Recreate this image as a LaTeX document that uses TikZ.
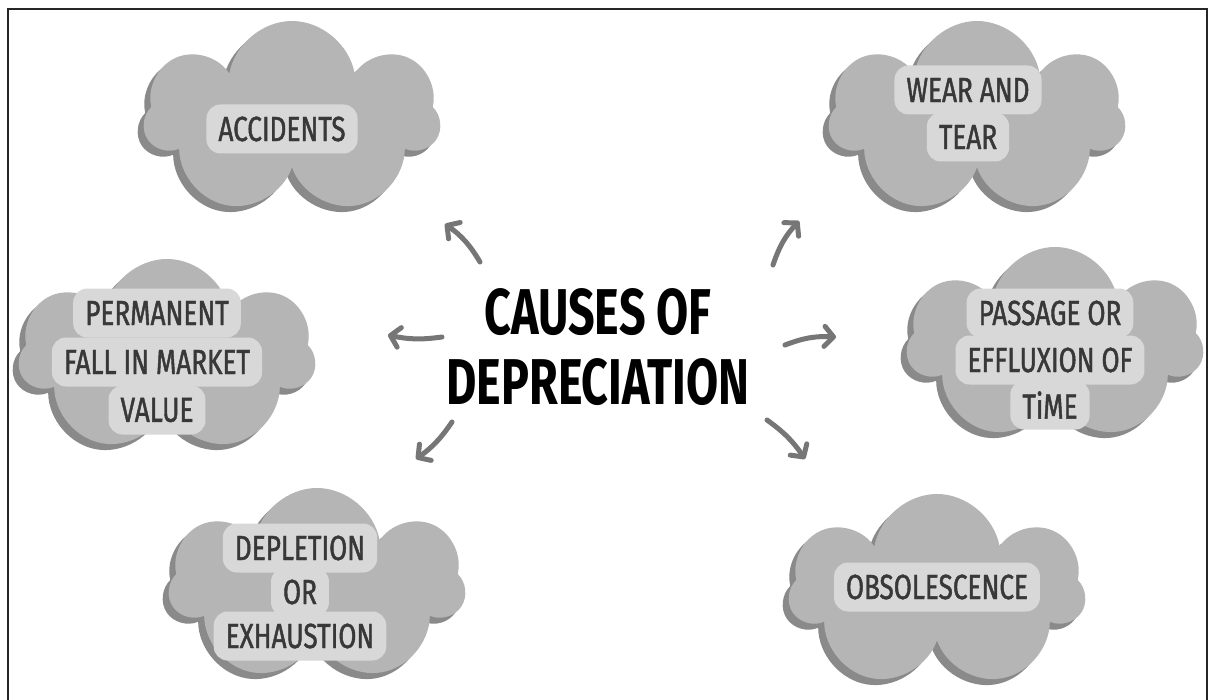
\documentclass[tikz,border=0pt]{standalone}
\usepackage{fontspec}
\newfontfamily\labelfont[FakeStretch=0.75, FakeBold=1.3]{Fira Sans}
\newfontfamily\titlefont[FakeStretch=0.72]{Fira Sans}
\usetikzlibrary{shapes.symbols,shadows,arrows.meta}
\definecolor{cloudgray}{HTML}{B5B5B5}
\definecolor{shadegray}{HTML}{8A8A8A}
\definecolor{boxgray}{HTML}{D8D8D8}
\definecolor{inkgray}{HTML}{383838}
\definecolor{arrowgray}{HTML}{767676}
\tikzset{
  puff/.style={cloud, cloud puffs=7, cloud puff arc=160, cloud ignores aspect,
    shape border rotate=13,
    fill=cloudgray, minimum width=296bp, minimum height=194bp,
    drop shadow={shadow xshift=-6bp, shadow yshift=-6bp, fill=shadegray, opacity=1}},
  tag/.style={fill=boxgray, rounded corners=14bp, text=inkgray, inner xsep=12bp,
    inner ysep=0pt, minimum height=49bp, font=\labelfont\fontsize{35}{40}\selectfont},
  pointer/.style={draw=arrowgray, line width=5bp, line cap=round,
    -{Straight Barb[length=9bp, width=20bp, round]}}
}
\begin{document}
\begin{tikzpicture}[x=1bp, y=-1bp]
\useasboundingbox (0,0) rectangle (1208,700);
\fill[white] (0,0) rectangle (1208,700);
\draw[line width=2.5bp, black!85] (8,702) -- (8,9) -- (1207,9) -- (1207,702);

\node[puff] (acc) at (292,118) {};
\node[puff] (wear) at (977,118) {};
\node[puff] (perm) at (167,356) {};
\node[puff] (pass) at (1055,344) {};
\node[puff] (depl) at (317,585) {};
\node[puff] (obso) at (937,591) {};

\node[tag] (acc1) at (282,129) {ACCIDENTS};
\node[tag] (wear1) at (968,90) {WEAR AND};
\node[tag] (wear2) at (968,137) {TEAR};
\node[tag] (perm1) at (157,313) {PERMANENT};
\node[tag] (perm2) at (157,362) {FALL IN MARKET};
\node[tag] (perm3) at (157,410) {VALUE};
\node[tag] (pass1) at (1050,313) {PASSAGE OR};
\node[tag] (pass2) at (1050,360) {EFFLUXION OF};
\node[tag] (pass3) at (1050,405) {TiME};
\node[tag] (depl1) at (300,548) {DEPLETION};
\node[tag] (depl2) at (300,592) {OR};
\node[tag] (depl3) at (300,636) {EXHAUSTION};
\node[tag] (obso1) at (937,587) {OBSOLESCENCE};

\node[align=center, font=\titlefont\bfseries\fontsize{65}{70}\selectfont] (title) at (598,347)
  {CAUSES OF\\DEPRECIATION};

\coordinate (t1) at (480,262); \coordinate (h1) at (445,224);
\coordinate (t2) at (442,337); \coordinate (h2) at (388,335);
\coordinate (t3) at (452,422); \coordinate (h3) at (416,459);
\coordinate (t4) at (773,265); \coordinate (h4) at (799,221);
\coordinate (t5) at (785,345); \coordinate (h5) at (836,337);
\coordinate (t6) at (767,420); \coordinate (h6) at (805,459);
\draw[pointer] (t1) to[bend right=12] (h1);
\draw[pointer] (t2) to[bend left=10] (h2);
\draw[pointer] (t3) to[bend left=10] (h3);
\draw[pointer] (t4) to[bend left=12] (h4);
\draw[pointer] (t5) to[bend left=12] (h5);
\draw[pointer] (t6) to[bend left=10] (h6);
\end{tikzpicture}
\end{document}
